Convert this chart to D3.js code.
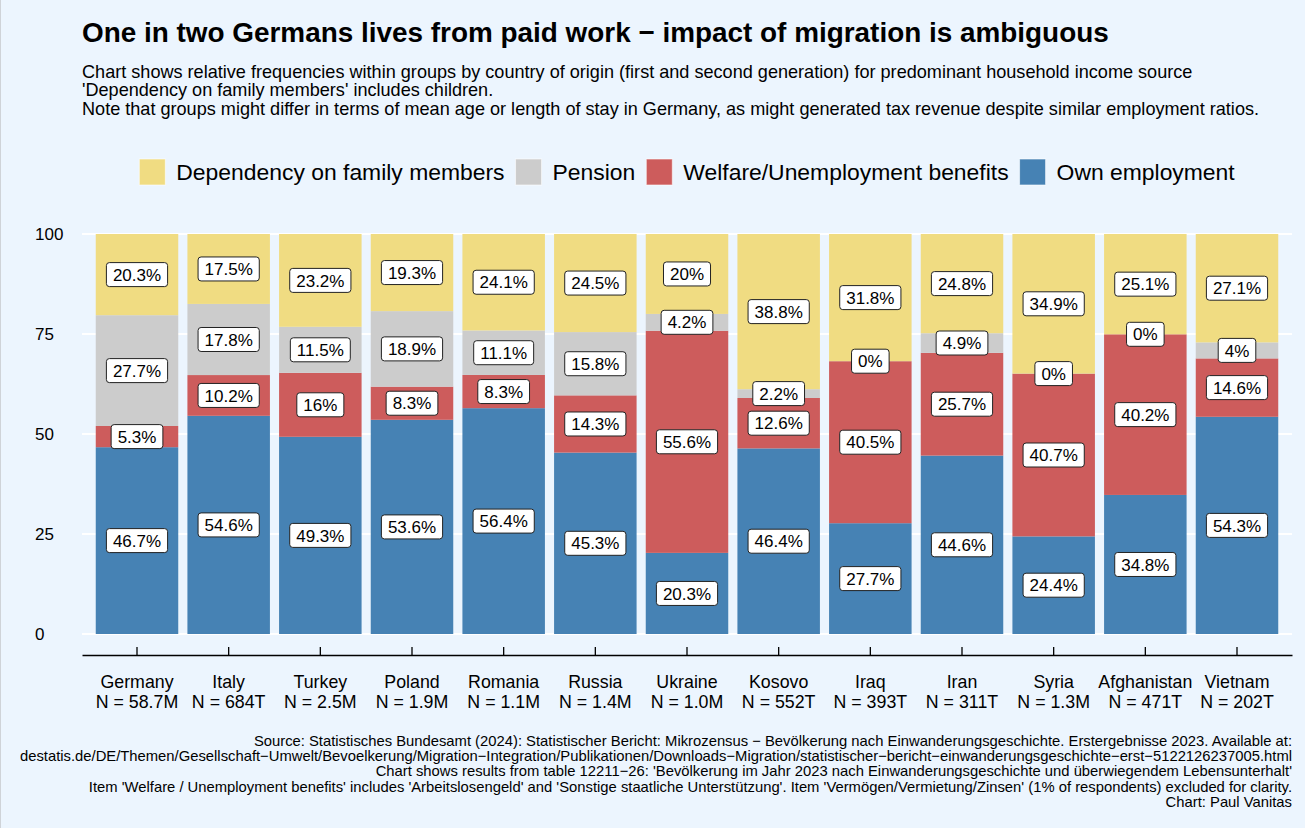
<!DOCTYPE html>
<html>
<head>
<meta charset="utf-8">
<script src="https://cdn.jsdelivr.net/npm/d3@7"></script>
<style>
  body { margin: 0; background: #ecf5fe; }
  svg { display: block; font-family: "Liberation Sans", Arial, sans-serif; }
</style>
</head>
<body>
<script>
// data
var countries = ["Germany", "Italy", "Turkey", "Poland", "Romania", "Russia", "Ukraine",
                 "Kosovo", "Iraq", "Iran", "Syria", "Afghanistan", "Vietnam"];
var groupSizes = ["58.7M", "684T", "2.5M", "1.9M", "1.1M", "1.4M", "1.0M",
                  "552T", "393T", "311T", "1.3M", "471T", "202T"];
var ownEmployment = [46.7, 54.6, 49.3, 53.6, 56.4, 45.3, 20.3, 46.4, 27.7, 44.6, 24.4, 34.8, 54.3];
var welfare       = [5.3, 10.2, 16, 8.3, 8.3, 14.3, 55.6, 12.6, 40.5, 25.7, 40.7, 40.2, 14.6];
var pension       = [27.7, 17.8, 11.5, 18.9, 11.1, 15.8, 4.2, 2.2, 0, 4.9, 0, 0, 4];
var dependency    = [20.3, 17.5, 23.2, 19.3, 24.1, 24.5, 20, 38.8, 31.8, 24.8, 34.9, 25.1, 27.1];
var seriesNames = ["Own employment", "Welfare/Unemployment benefits", "Pension", "Dependency on family members"];
var seriesColors = ["#4682b4", "#cd5c5c", "#cccccc", "#f0dc82"];
var yTicks = [0, 25, 50, 75, 100];

var title = "One in two Germans lives from paid work \u2212 impact of migration is ambiguous";
var subtitle = [
  "Chart shows relative frequencies within groups by country of origin (first and second generation) for predominant household income source",
  "'Dependency on family members' includes children.",
  "Note that groups might differ in terms of mean age or length of stay in Germany, as might generated tax revenue despite similar employment ratios."
];
var caption = [
  "Source: Statistisches Bundesamt (2024): Statistischer Bericht: Mikrozensus \u2212 Bev\u00f6lkerung nach Einwanderungsgeschichte. Erstergebnisse 2023. Available at:",
  "destatis.de/DE/Themen/Gesellschaft\u2212Umwelt/Bevoelkerung/Migration\u2212Integration/Publikationen/Downloads\u2212Migration/statistischer\u2212bericht\u2212einwanderungsgeschichte\u2212erst\u22125122126237005.html",
  "Chart shows results from table 12211\u221226: 'Bev\u00f6lkerung im Jahr 2023 nach Einwanderungsgeschichte und \u00fcberwiegendem Lebensunterhalt'",
  "Item 'Welfare / Unemployment benefits' includes 'Arbeitslosengeld' and 'Sonstige staatliche Unterst\u00fctzung'. Item 'Verm\u00f6gen/Vermietung/Zinsen' (1% of respondents) excluded for clarity.",
  "Chart: Paul Vanitas"
];

var width = 1305, height = 828;
var panelLeft = 82, panelRight = 1292, panelTop = 234, panelBottom = 634;

var svg = d3.select("body").append("svg")
    .attr("width", width)
    .attr("height", height);

svg.append("rect").attr("width", width).attr("height", height).attr("fill", "#ecf5fe");
svg.append("line")
    .attr("x1", 0.5).attr("x2", 0.5).attr("y1", 0).attr("y2", height)
    .attr("stroke", "#cfd3d8");

// title + subtitle
svg.append("text")
    .attr("x", panelLeft).attr("y", 42)
    .attr("font-size", 27.9).attr("font-weight", "bold")
    .text(title);

svg.selectAll(".sub").data(subtitle).enter().append("text")
    .attr("x", panelLeft)
    .attr("y", function(d, i) { return 78 + i * 18.4; })
    .attr("font-size", 18.1)
    .text(function(d) { return d; });

// rows for stacking, normalised so each bar fills 100
var rows = countries.map(function(c, i) {
    var vals = [ownEmployment[i], welfare[i], pension[i], dependency[i]];
    var total = d3.sum(vals);
    var row = { country: c, n: groupSizes[i], raw: vals };
    seriesNames.forEach(function(s, j) { row[s] = vals[j] / total * 100; });
    return row;
});

var stacked = d3.stack().keys(seriesNames)(rows);

var x = d3.scaleBand()
    .domain(countries)
    .range([panelLeft, panelRight])
    .paddingInner(0.1)
    .paddingOuter(0.15);

var y = d3.scaleLinear().domain([0, 100]).range([panelBottom, panelTop]);

// gridlines
svg.append("g").selectAll("line").data(yTicks).enter().append("line")
    .attr("x1", panelLeft).attr("x2", panelRight)
    .attr("y1", function(d) { return y(d); })
    .attr("y2", function(d) { return y(d); })
    .attr("stroke", "#ffffff").attr("stroke-width", 2);

// y tick labels (left aligned as in the original)
svg.append("g").selectAll("text").data(yTicks).enter().append("text")
    .attr("x", 35)
    .attr("y", function(d) { return y(d); })
    .attr("dy", "0.35em")
    .attr("font-size", 17)
    .text(function(d) { return d; });

// bars
var layer = svg.append("g").selectAll("g").data(stacked).enter().append("g")
    .attr("fill", function(d, i) { return seriesColors[i]; });

layer.selectAll("rect").data(function(d) { return d; }).enter().append("rect")
    .attr("x", function(d) { return x(d.data.country); })
    .attr("width", x.bandwidth())
    .attr("y", function(d) { return y(d[1]); })
    .attr("height", function(d) { return y(d[0]) - y(d[1]); });

// value labels
var labelData = [];
stacked.forEach(function(s, j) {
    s.forEach(function(d, i) {
        labelData.push({
            cx: x(d.data.country) + x.bandwidth() / 2,
            cy: y((d[0] + d[1]) / 2),
            txt: d.data.raw[j] + "%"
        });
    });
});

var lab = svg.append("g").selectAll("g").data(labelData).enter().append("g")
    .attr("transform", function(d) { return "translate(" + d.cx + "," + d.cy + ")"; });

lab.append("rect").attr("class", "box");
lab.append("text")
    .attr("text-anchor", "middle")
    .attr("dy", "0.36em")
    .attr("font-size", 17)
    .text(function(d) { return d.txt; });

lab.each(function() {
    var g = d3.select(this);
    var w = g.select("text").node().getComputedTextLength() + 13;
    g.select("rect")
        .attr("x", -w / 2).attr("y", -12)
        .attr("width", w).attr("height", 24)
        .attr("rx", 3)
        .attr("fill", "#ffffff")
        .attr("stroke", "#222222")
        .attr("stroke-width", 1);
});

// x axis: ticks pointing up from the axis line
var xAxis = svg.append("g")
    .attr("transform", "translate(0,655)")
    .call(d3.axisBottom(x).tickSize(-8).tickSizeOuter(0).tickFormat(""));
xAxis.select(".domain").attr("stroke", "#000").attr("stroke-width", 1.3);
xAxis.selectAll(".tick line").attr("stroke", "#000").attr("stroke-width", 1.3);

var xl = svg.append("g").selectAll("text").data(rows).enter().append("text")
    .attr("text-anchor", "middle")
    .attr("font-size", 17.8);
xl.append("tspan")
    .attr("x", function(d) { return x(d.country) + x.bandwidth() / 2; })
    .attr("y", 688)
    .text(function(d) { return d.country; });
xl.append("tspan")
    .attr("x", function(d) { return x(d.country) + x.bandwidth() / 2; })
    .attr("y", 707.5)
    .text(function(d) { return "N = " + d.n; });

// legend, reversed order, centred over the panel
var legendOrder = [3, 2, 1, 0];
var legend = svg.append("g");
var items = legend.selectAll("g").data(legendOrder).enter().append("g");
items.append("rect")
    .attr("width", 26).attr("height", 26)
    .attr("y", -13)
    .attr("fill", function(d) { return seriesColors[d]; })
    .attr("stroke", "#ffffff").attr("stroke-opacity", 0.6);
items.append("text")
    .attr("x", 37)
    .attr("dy", "0.36em")
    .attr("font-size", 22.9)
    .text(function(d) { return seriesNames[d]; });

var pos = 0, offsets = [];
items.each(function() {
    offsets.push(pos);
    pos += 37 + d3.select(this).select("text").node().getComputedTextLength() + 11;
});
var legendWidth = pos - 11;
var legendStart = (panelLeft + panelRight) / 2 - legendWidth / 2;
items.attr("transform", function(d, i) { return "translate(" + (legendStart + offsets[i]) + ",172)"; });

// caption
svg.selectAll(".cap").data(caption).enter().append("text")
    .attr("x", panelRight)
    .attr("y", function(d, i) { return 745.5 + i * 15.4; })
    .attr("text-anchor", "end")
    .attr("font-size", 14.8)
    .text(function(d) { return d; });
</script>
</body>
</html>
